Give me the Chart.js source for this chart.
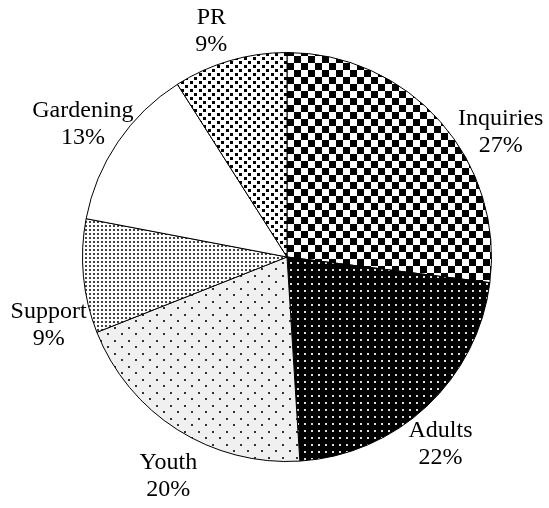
<!DOCTYPE html>
<html>
<head>
<meta charset="utf-8">
<script src="https://cdn.jsdelivr.net/npm/chart.js@4.4.1/dist/chart.umd.min.js"></script>
<style>
  html, body { margin: 0; padding: 0; background: #fff; }
  canvas { display: block; }
</style>
</head>
<body>
<canvas id="pieChart" width="549" height="508"></canvas>
<script>
// data, clockwise from 12 o'clock
const categories = ['Inquiries', 'Adults', 'Youth', 'Support', 'Gardening', 'PR'];
const shares = [27, 22, 20, 9, 13, 9];

// label tweaks (degrees of turn, distance as part of the radius)
const labelTurn = [11.1, 3.9, -4.0, -10.5, -1.2, -2.3];
const labelDist = [1.21, 1.185, 1.22, 1.212, 1.19, 1.166];

// small tiles used as fills
function makePattern(w, h, bg, draw) {
    const c = document.createElement('canvas');
    c.width = w; c.height = h;
    const g = c.getContext('2d');
    g.fillStyle = bg;
    g.fillRect(0, 0, w, h);
    draw(g);
    return document.getElementById('pieChart').getContext('2d').createPattern(c, 'repeat');
}

const fills = [
    // checkerboard
    makePattern(14, 14, '#fff', g => {
        g.fillStyle = '#000';
        g.fillRect(0, 0, 7, 7);
        g.fillRect(7, 7, 7, 7);
    }),
    // white dots on black
    makePattern(7, 7, '#000', g => {
        g.fillStyle = '#ddd';
        g.fillRect(3, 3, 2, 2);
    }),
    // sparse dark dots on light grey
    makePattern(14, 13, '#f0f0f0', g => {
        g.fillStyle = '#333';
        g.fillRect(2, 2, 2, 2);
        g.fillRect(9, 8, 2, 2);
    }),
    // fine dense dots
    makePattern(4, 4, '#fff', g => {
        g.fillStyle = '#444';
        g.fillRect(1, 1, 2, 2);
    }),
    '#ffffff',
    // black squares on white
    makePattern(9, 8, '#fff', g => {
        g.fillStyle = '#000';
        g.fillRect(1, 1, 3, 3);
        g.fillRect(5, 5, 3, 3);
    })
];

// draws "Name\nNN%" outside each slice
const outsideLabels = {
    id: 'outsideLabels',
    afterDatasetsDraw(chart) {
        const ctx = chart.ctx;
        const meta = chart.getDatasetMeta(0);
        ctx.save();
        ctx.fillStyle = '#000';
        ctx.font = '24px "Liberation Serif", "Times New Roman", serif';
        ctx.textAlign = 'center';
        ctx.textBaseline = 'middle';
        meta.data.forEach((arc, i) => {
            const mid = (arc.startAngle + arc.endAngle) / 2 + labelTurn[i] * Math.PI / 180;
            const d = arc.outerRadius * labelDist[i];
            const x = arc.x + Math.cos(mid) * d;
            const y = arc.y + Math.sin(mid) * d;
            ctx.fillText(categories[i], x, y - 13.5);
            ctx.fillText(shares[i] + '%', x, y + 13.5);
        });
        ctx.restore();
    }
};

new Chart(document.getElementById('pieChart'), {
    type: 'pie',
    data: {
        labels: categories,
        datasets: [{
            data: shares,
            backgroundColor: fills,
            borderColor: '#000',
            borderWidth: 1
        }]
    },
    options: {
        responsive: false,
        animation: false,
        layout: { padding: { top: 52, bottom: 46, left: 82, right: 57 } },
        plugins: {
            legend: { display: false },
            tooltip: { enabled: false }
        }
    },
    plugins: [outsideLabels]
});
</script>
</body>
</html>
